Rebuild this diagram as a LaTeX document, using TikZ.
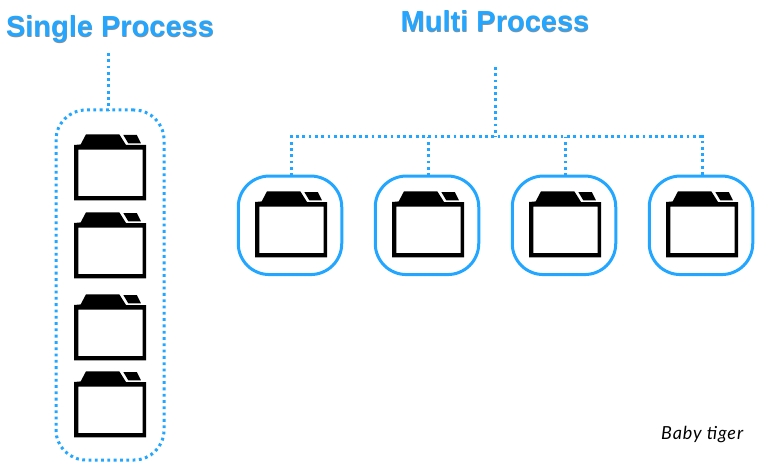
\documentclass[tikz,border=0pt]{standalone}
\usepackage{fontspec}
\setmainfont{Liberation Sans}
\newfontfamily\handfont[LetterSpace=5]{Lato}
\definecolor{procblue}{HTML}{22A6FF}
\definecolor{titleshadow}{HTML}{8A8F94}
\tikzset{
  solidbox/.style={draw=procblue,line width=3pt,rounded corners=31pt,minimum width=103.5pt,minimum height=98.5pt,inner sep=0pt,outer sep=0pt},
  dottedbox/.style={draw=procblue,line width=3pt,dash pattern=on 2.8pt off 3.5pt,rounded corners=30pt,minimum width=108pt,minimum height=350pt,inner sep=0pt,outer sep=0pt},
  dotlink/.style={draw=procblue,line width=3pt,dash pattern=on 2.8pt off 3.5pt},
  titletext/.style={text=procblue,font=\fontsize{29}{32}\selectfont\bfseries,inner sep=0pt,anchor=base},
  shadowtext/.style={text=titleshadow,font=\fontsize{29}{32}\selectfont\bfseries,inner sep=0pt,anchor=base},
  folder/.pic={
    \fill[black,even odd rule] (0,11) -- (6.7,10.4) -- (12,0.3) -- (45.3,0.3) -- (52,11) -- (72,11) -- (72,66.3) -- (0,66.3) -- cycle
      (4.4,15.5) rectangle (68.5,62);
    \fill[black] (49.3,1) -- (62.8,1) -- (66.9,9.3) -- (54.3,9.3) -- cycle;
  }
}
\begin{document}
\begin{tikzpicture}[x=1pt,y=-1pt]
\useasboundingbox[fill=white] (0,0) rectangle (760,468);
% titles
\node[shadowtext] (singleshadow) at (110.3,37.4) {Single Process};
\node[titletext] (singletitle) at (110,36.6) {Single Process};
\node[shadowtext] (multishadow) at (495.3,32.8) {Multi Process};
\node[titletext] (multititle) at (495,32) {Multi Process};
% single process
\node[dottedbox] (singlebox) at (110,285) {};
\coordinate (singletop) at (108,53);
\draw[dotlink] (singletop) -- (singletop |- singlebox.north);
\pic at (74,134) {folder};
\pic at (74,212) {folder};
\pic at (74,294) {folder};
\pic at (74,371) {folder};
% multi process
\node[solidbox] (m1) at (290,225.3) {};
\node[solidbox] (m2) at (427,225.3) {};
\node[solidbox] (m3) at (564,225.3) {};
\node[solidbox] (m4) at (701,225.3) {};
\coordinate (multitop) at (495,67);
\coordinate (hub) at (495,137);
\draw[dotlink] (multitop) -- (hub);
\draw[dotlink] ([xshift=1pt]m1.north) |- (hub) -| ([xshift=1pt]m4.north);
\draw[dotlink] ([xshift=1pt]m2.north) -- ([xshift=1pt]m2.north |- hub);
\draw[dotlink] ([xshift=1pt]m3.north) -- ([xshift=1pt]m3.north |- hub);
\pic at (255,191) {folder};
\pic at (392,191) {folder};
\pic at (529,191) {folder};
\pic at (666,191) {folder};
% signature
\node[inner sep=0pt,anchor=base west,text=black,font=\fontsize{18}{20}\selectfont\handfont\itshape] (signature) at (661,439) {Baby tiger};
\end{tikzpicture}
\end{document}
